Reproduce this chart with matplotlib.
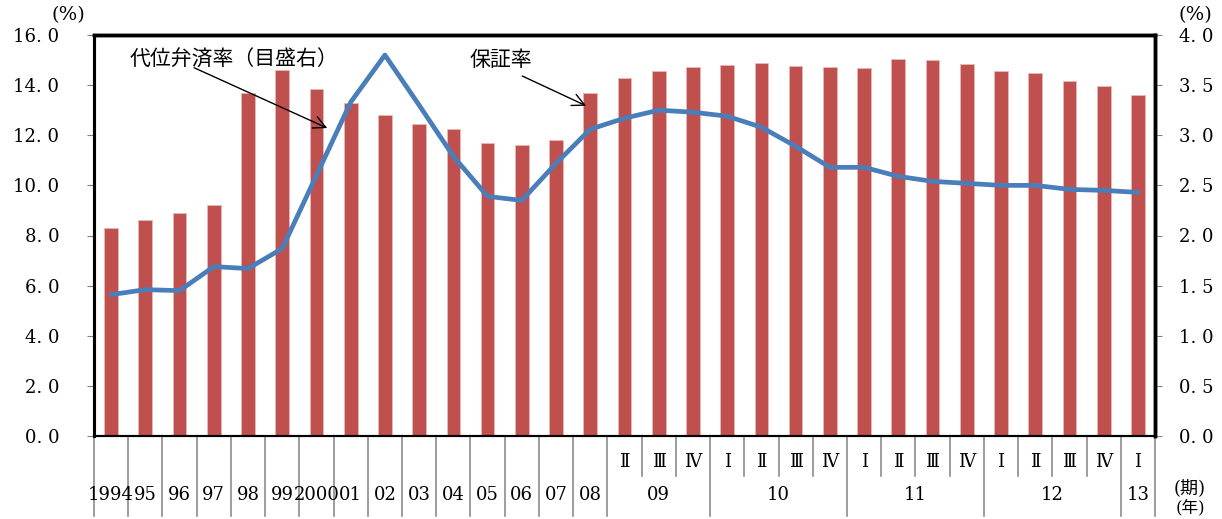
import matplotlib.pyplot as plt
import numpy as np

plt.rcParams['font.family'] = ['DejaVu Serif', 'Noto Sans CJK JP']

# category labels
years = ['1994', '95', '96', '97', '98', '99', '2000', '01', '02', '03',
         '04', '05', '06', '07', '08']
q_years = ['09', '10', '11', '12', '13']
q_labels = [['Ⅱ', 'Ⅲ', 'Ⅳ'],
            ['Ⅰ', 'Ⅱ', 'Ⅲ', 'Ⅳ'],
            ['Ⅰ', 'Ⅱ', 'Ⅲ', 'Ⅳ'],
            ['Ⅰ', 'Ⅱ', 'Ⅲ', 'Ⅳ'],
            ['Ⅰ']]

# 保証率 (left axis, %)
guarantee = [8.3, 8.6, 8.9, 9.2, 13.7, 14.6, 13.85, 13.3, 12.8, 12.45,
             12.25, 11.7, 11.6, 11.8, 13.7,
             14.3, 14.58, 14.74,
             14.8, 14.9, 14.76, 14.73,
             14.68, 15.05, 15.02, 14.85,
             14.58, 14.48, 14.15, 13.95,
             13.6]

# 代位弁済率 (right axis, %)
subrogation = [1.41, 1.46, 1.45, 1.69, 1.67, 1.87, 2.6, 3.33, 3.8, 3.3,
               2.79, 2.39, 2.35, 2.72, 3.06,
               3.17, 3.25, 3.23,
               3.19, 3.08, 2.89, 2.68,
               2.68, 2.59, 2.54, 2.52,
               2.5, 2.5, 2.46, 2.45,
               2.43]

n = len(guarantee)
x = np.arange(n)

fig = plt.figure(figsize=(12.22, 5.19), dpi=100)
ax = fig.add_axes([94 / 1222, 83 / 519, 1061 / 1222, 401 / 519])
ax2 = ax.twinx()

ax.bar(x, guarantee, width=0.4, color='#C0504D', edgecolor='#E6B9B8', linewidth=0.6)
ax2.plot(x, subrogation, color='#4A7EBB', lw=3.4, solid_joinstyle='round',
         solid_capstyle='round')

ax.set_xlim(-0.5, n - 0.5)
ax.set_ylim(0, 16)
ax2.set_ylim(0, 4)

lt = np.arange(0, 16.1, 2)
ax.set_yticks(lt)
ax.set_yticklabels([f'{v:.1f}'.replace('.', '. ') for v in lt], fontsize=13)
rt = np.arange(0, 4.01, 0.5)
ax2.set_yticks(rt)
ax2.set_yticklabels([f'{v:.1f}'.replace('.', '. ') for v in rt], fontsize=13)
ax.set_xticks([])
ax.tick_params(axis='y', direction='out', length=5, color='#808080', pad=20)
ax2.tick_params(axis='y', direction='out', length=5, color='#808080', pad=12)

for a in (ax, ax2):
    a.spines['top'].set_linewidth(2.5)
    a.spines['left'].set_linewidth(2.2)
    a.spines['right'].set_linewidth(2.5)
    a.spines['bottom'].set_linewidth(1.5)

# table-like x axis: separators and labels
tr = ax.get_xaxis_transform()
sep_kw = dict(transform=tr, clip_on=False, color='#8c8c8c', lw=1.2)
full = -0.2
short = -0.1
for i in range(len(years) + 1):
    ax.plot([i - 0.5, i - 0.5], [0, full], **sep_kw)
for i, y in enumerate(years):
    ax.text(i, -0.147, y, transform=tr, ha='center', va='center', fontsize=13)

pos = len(years)
for yr, qs in zip(q_years, q_labels):
    start = pos
    for j, q in enumerate(qs):
        ax.text(pos, -0.065, q, transform=tr, ha='center', va='center', fontsize=13)
        if j > 0:
            ax.plot([pos - 0.5, pos - 0.5], [0, short], **sep_kw)
        pos += 1
    ax.plot([pos - 0.5, pos - 0.5], [0, full], **sep_kw)
    ax.text((start + pos - 1) / 2, -0.147, yr, transform=tr, ha='center',
            va='center', fontsize=13)

fig.text(1190 / 1222, 1 - 488 / 519, '(期)', ha='center', va='center', fontsize=13)
fig.text(1190 / 1222, 1 - 508 / 519, '(年)', ha='center', va='center', fontsize=12)
fig.text(68 / 1222, 1 - 15 / 519, '(%)', ha='center', va='center', fontsize=14)
fig.text(1195 / 1222, 1 - 15 / 519, '(%)', ha='center', va='center', fontsize=14)

# annotations
ax.annotate('', xy=(6.39, 12.24), xytext=(2.35, 14.74),
            arrowprops=dict(arrowstyle='->', color='black', lw=1, mutation_scale=22))
ax.text(0.55, 15.0, '代位弁済率（目盛右）', fontsize=15, ha='left', va='center',
        family=['Noto Sans CJK JP'])
ax.annotate('', xy=(13.95, 13.13), xytext=(11.94, 14.41),
            arrowprops=dict(arrowstyle='->', color='black', lw=1, mutation_scale=22))
ax.text(10.48, 15.0, '保証率', fontsize=15, ha='left', va='center',
        family=['Noto Sans CJK JP'])

plt.savefig('out.png', dpi=100)
